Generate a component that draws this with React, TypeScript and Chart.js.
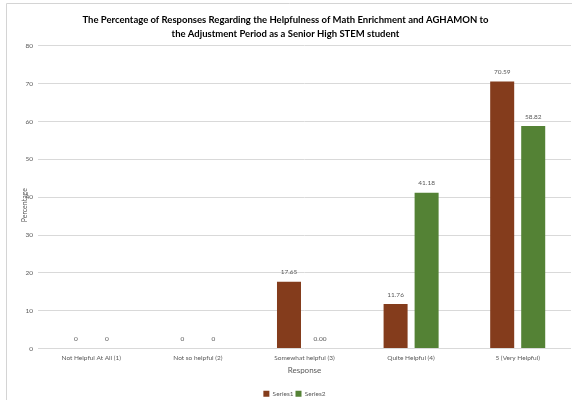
import React, { useEffect, useRef } from "react";
import { Chart, registerables } from "chart.js";

Chart.register(...registerables);

const categories = [
  "Not Helpful At All (1)",
  "Not so helpful (2)",
  "Somewhat helpful (3)",
  "Quite Helpful (4)",
  "5 (Very Helpful)",
];
const series1 = [0, 0, 17.65, 11.76, 70.59];
const series2 = [0, 0, 0, 41.18, 58.82];
const series1Labels = ["0", "0", "17.65", "11.76", "70.59"];
const series2Labels = ["0", "0", "0.00", "41.18", "58.82"];
const seriesNames = ["Series1", "Series2"];
const yMax = 80;
const yStep = 10;

const FONT = "Lato, 'Open Sans', sans-serif";
const TEXT = "#595959";
const GRID = "#d9d9d9";

const valueLabels = {
  id: "valueLabels",
  afterDatasetsDraw(chart: any) {
    const ctx = chart.ctx;
    const all = [series1Labels, series2Labels];
    ctx.save();
    ctx.font = `6.5px ${FONT}`;
    ctx.fillStyle = TEXT;
    ctx.textAlign = "center";
    ctx.textBaseline = "middle";
    chart.data.datasets.forEach((_d: any, di: number) => {
      const meta = chart.getDatasetMeta(di);
      meta.data.forEach((el: any, i: number) => {
        ctx.fillText(all[di][i], el.x, el.y - 9.5);
      });
    });
    ctx.restore();
  },
};

const frameAndTitle = {
  id: "frameAndTitle",
  afterLayout(chart: any) {
    if (chart.legend) {
      chart.legend.left += 9;
      chart.legend.right += 9;
    }
  },
  beforeDraw(chart: any) {
    const ctx = chart.ctx;
    ctx.save();
    ctx.strokeStyle = "#d4d4d4";
    ctx.lineWidth = 1;
    ctx.beginPath();
    ctx.moveTo(6.5, 400);
    ctx.lineTo(6.5, 3.5);
    ctx.lineTo(572, 3.5);
    ctx.stroke();
    ctx.restore();
  },
  afterDraw(chart: any) {
    const ctx = chart.ctx;
    const a = chart.chartArea;
    ctx.save();
    ctx.translate(25, (a.top + a.bottom) / 2 + 8);
    ctx.rotate(-Math.PI / 2);
    ctx.font = `7px ${FONT}`;
    ctx.fillStyle = TEXT;
    ctx.textAlign = "center";
    ctx.textBaseline = "middle";
    ctx.fillText("Percentage", 0, 0);
    ctx.restore();
  },
};

export default function App() {
  const ref = useRef<HTMLCanvasElement>(null);
  useEffect(() => {
    document.body.style.margin = "0";
    const chart = new Chart(ref.current!, {
      type: "bar",
      data: {
        labels: categories,
        datasets: [
          {
            label: seriesNames[0],
            data: series1,
            backgroundColor: "#843c1c",
            categoryPercentage: 0.582,
            barPercentage: 0.774,
          },
          {
            label: seriesNames[1],
            data: series2,
            backgroundColor: "#548235",
            categoryPercentage: 0.582,
            barPercentage: 0.774,
          },
        ],
      },
      options: {
        animation: false,
        responsive: true,
        maintainAspectRatio: false,
        layout: { padding: { left: 0, right: 6, top: 0, bottom: -7 } },
        plugins: {
          title: {
            display: true,
            text: [
              "The Percentage of Responses Regarding the Helpfulness of Math Enrichment and AGHAMON to",
              "the Adjustment Period as a Senior High STEM student",
            ],
            color: "#000",
            font: { family: FONT, size: 9.5, weight: "bold", lineHeight: 1.47 },
            padding: { top: 13, bottom: 5 },
          },
          legend: {
            position: "bottom",
            labels: {
              boxWidth: 6,
              boxHeight: 6,
              padding: 2,
              color: TEXT,
              font: { family: FONT, size: 6.5 },
            },
          },
          tooltip: { enabled: false },
        },
        scales: {
          x: {
            afterFit(scale: any) {
              scale.height = 40;
            },
            grid: { display: false, drawTicks: false },
            border: { display: false },
            ticks: { color: TEXT, font: { family: FONT, size: 6.5 }, padding: 6, maxRotation: 0 },
            title: {
              display: true,
              text: "Response",
              color: TEXT,
              font: { family: FONT, size: 8 },
              padding: { top: 2, bottom: 13 },
            },
          },
          y: {
            min: 0,
            max: yMax,
            afterFit(scale: any) {
              scale.width = 38;
            },
            grid: { color: GRID, drawTicks: false },
            border: { display: false },
            ticks: { stepSize: yStep, color: TEXT, font: { family: FONT, size: 6.5 }, padding: 5 },
          },
        },
      },
      plugins: [valueLabels, frameAndTitle],
    });
    return () => chart.destroy();
  }, []);
  return (
    <div style={{ width: 577, height: 400, position: "relative" }}>
      <canvas ref={ref} />
    </div>
  );
}
